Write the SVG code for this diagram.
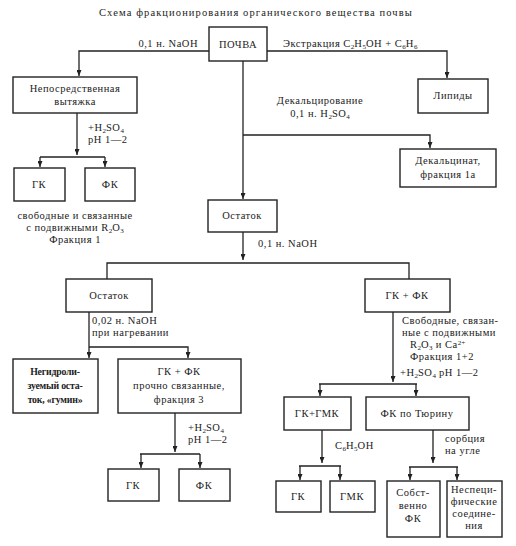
<svg xmlns="http://www.w3.org/2000/svg" width="516" height="546" viewBox="0 0 516 546" font-family="'Liberation Serif', 'Times New Roman', 'DejaVu Serif', serif">
<defs>
<marker id="ar" markerWidth="6" markerHeight="5" refX="6" refY="2.5" orient="auto" markerUnits="userSpaceOnUse">
<path d="M0,0 L6,2.5 L0,5 z" fill="#222"/>
</marker>
<style>
text{font-family:'Liberation Serif','Times New Roman','DejaVu Serif',serif;font-size:10.5px;letter-spacing:0.5px;fill:#222}
.c{text-anchor:middle}
.t{font-size:10.5px;letter-spacing:1.1px}
.b{font-weight:bold;font-size:9.8px;letter-spacing:-0.2px}
.box rect{fill:#fff;stroke:#222;stroke-width:1.4}
#connectors path{fill:none;stroke:#222;stroke-width:1.3}
.s{font-size:7px;letter-spacing:0}
</style>
</defs>
<rect width="516" height="546" fill="#fff"/>
<text class="c t" x="256" y="16">Схема фракционирования органического вещества почвы</text>

<g id="connectors">
<path d="M209 51 H79 V76" marker-end="url(#ar)"/>
<path d="M267 51 H447 V78" marker-end="url(#ar)"/>
<path d="M243 61 V199" marker-end="url(#ar)"/>
<path d="M243 135 H430 V148" marker-end="url(#ar)"/>
<path d="M77 113 V155" marker-end="url(#ar)"/>
<path d="M40 157 H105"/>
<path d="M40 157 V167" marker-end="url(#ar)"/>
<path d="M105 157 V167" marker-end="url(#ar)"/>
<path d="M243 232 V260" marker-end="url(#ar)"/>
<path d="M107 279 V263 H409 V279"/>
<path d="M89 312 V358" marker-end="url(#ar)"/>
<path d="M89 347 H188 V358" marker-end="url(#ar)"/>
<path d="M175 413 V452" marker-end="url(#ar)"/>
<path d="M140 454 H200"/>
<path d="M141 454 V468" marker-end="url(#ar)"/>
<path d="M200 454 V468" marker-end="url(#ar)"/>
<path d="M393 312 V382" marker-end="url(#ar)"/>
<path d="M319 384 H417"/>
<path d="M320 384 V396" marker-end="url(#ar)"/>
<path d="M416 384 V396" marker-end="url(#ar)"/>
<path d="M322 430 V463" marker-end="url(#ar)"/>
<path d="M299 466 H341"/>
<path d="M300 466 V480" marker-end="url(#ar)"/>
<path d="M340 466 V480" marker-end="url(#ar)"/>
<path d="M433 430 V463" marker-end="url(#ar)"/>
<path d="M409 467 H458"/>
<path d="M410 467 V480" marker-end="url(#ar)"/>
<path d="M457 467 V480" marker-end="url(#ar)"/>
</g>

<g id="labels">
<text x="198" y="47" text-anchor="end">0,1 н. NaOH</text>
<text x="283" y="47">Экстракция C<tspan class="s" dy="2">2</tspan><tspan dy="-2">H</tspan><tspan class="s" dy="2">5</tspan><tspan dy="-2">OH + C</tspan><tspan class="s" dy="2">6</tspan><tspan dy="-2">H</tspan><tspan class="s" dy="2">6</tspan></text>
<text class="c" x="320" y="104">Декальцирование</text>
<text class="c" x="320" y="117">0,1 н. H<tspan class="s" dy="2">2</tspan><tspan dy="-2">SO</tspan><tspan class="s" dy="2">4</tspan></text>
<text x="88" y="131">+H<tspan class="s" dy="2">2</tspan><tspan dy="-2">SO</tspan><tspan class="s" dy="2">4</tspan></text>
<text x="88" y="143">pH 1—2</text>
<text class="c" x="75" y="219">свободные и связанные</text>
<text class="c" x="75" y="231">с подвижными R<tspan class="s" dy="2">2</tspan><tspan dy="-2">O</tspan><tspan class="s" dy="2">3</tspan></text>
<text class="c" x="75" y="243">Фракция 1</text>
<text x="258" y="247">0,1 н. NaOH</text>
<text x="92" y="324">0,02 н. NaOH</text>
<text x="92" y="336">при нагревании</text>
<text x="188" y="431">+H<tspan class="s" dy="2">2</tspan><tspan dy="-2">SO</tspan><tspan class="s" dy="2">4</tspan></text>
<text x="188" y="443">pH 1—2</text>
<text x="402" y="324">Свободные, связан-</text>
<text x="402" y="336">ные с подвижными</text>
<text x="410" y="348">R<tspan class="s" dy="2">2</tspan><tspan dy="-2">O</tspan><tspan class="s" dy="2">3</tspan><tspan dy="-2"> и Ca</tspan><tspan class="s" dy="-3">2+</tspan></text>
<text x="410" y="360">Фракция 1+2</text>
<text x="400" y="376">+H<tspan class="s" dy="2">2</tspan><tspan dy="-2">SO</tspan><tspan class="s" dy="2">4</tspan><tspan dy="-2"> pH 1—2</tspan></text>
<text x="335" y="449">C<tspan class="s" dy="2">6</tspan><tspan dy="-2">H</tspan><tspan class="s" dy="2">5</tspan><tspan dy="-2">OH</tspan></text>
<text x="445" y="442">сорбция</text>
<text x="445" y="454">на угле</text>
</g>

<g id="pochva" class="box"><rect x="209" y="27" width="58" height="34"/><text class="c" x="238" y="48">ПОЧВА</text></g>
<g id="vytyazhka" class="box"><rect x="13" y="77" width="124" height="36"/><text class="c" x="75" y="92">Непосредственная</text><text class="c" x="75" y="105">вытяжка</text></g>
<g id="lipidy" class="box"><rect x="418" y="79" width="70" height="34"/><text class="c" x="453" y="99">Липиды</text></g>
<g id="dekalcinat" class="box"><rect x="400" y="149" width="96" height="38"/><text class="c" x="448" y="164">Декальцинат,</text><text class="c" x="448" y="178">фракция 1а</text></g>
<g id="gk1" class="box"><rect x="14" y="168" width="51" height="33"/><text class="c" x="39" y="188">ГК</text></g>
<g id="fk1" class="box"><rect x="85" y="168" width="50" height="33"/><text class="c" x="110" y="188">ФК</text></g>
<g id="ostatok1" class="box"><rect x="208" y="200" width="69" height="32"/><text class="c" x="242" y="219">Остаток</text></g>
<g id="ostatok2" class="box"><rect x="66" y="279" width="86" height="33"/><text class="c" x="109" y="299">Остаток</text></g>
<g id="gkfk" class="box"><rect x="365" y="279" width="85" height="33"/><text class="c" x="407" y="299">ГК + ФК</text></g>
<g id="gumin" class="box"><rect x="13" y="359" width="85" height="54"/><text class="c b" x="55" y="375">Негидроли-</text><text class="c b" x="55" y="389">зуемый оста-</text><text class="c b" x="55" y="403">ток, «гумин»</text></g>
<g id="frac3" class="box"><rect x="118" y="359" width="123" height="54"/><text class="c" x="179" y="375">ГК + ФК</text><text class="c" x="179" y="389">прочно связанные,</text><text class="c" x="179" y="403">фракция 3</text></g>
<g id="gk3" class="box"><rect x="108" y="469" width="51" height="32"/><text class="c" x="133" y="489">ГК</text></g>
<g id="fk3" class="box"><rect x="179" y="469" width="51" height="32"/><text class="c" x="204" y="489">ФК</text></g>
<g id="gkgmk" class="box"><rect x="284" y="397" width="67" height="33"/><text class="c" x="317" y="417">ГК+ГМК</text></g>
<g id="fktyurin" class="box"><rect x="366" y="397" width="103" height="33"/><text class="c" x="417" y="417">ФК по Тюрину</text></g>
<g id="gk4" class="box"><rect x="276" y="481" width="45" height="31"/><text class="c" x="298" y="500">ГК</text></g>
<g id="gmk" class="box"><rect x="330" y="481" width="45" height="31"/><text class="c" x="352" y="500">ГМК</text></g>
<g id="sobstvenno" class="box"><rect x="387" y="481" width="53" height="56"/><text class="c" x="413" y="496">Собст-</text><text class="c" x="413" y="509">венно</text><text class="c" x="413" y="522">ФК</text></g>
<g id="nespec" class="box"><rect x="447" y="481" width="55" height="56"/><text class="c" x="474" y="493">Неспеци-</text><text class="c" x="474" y="505">фические</text><text class="c" x="474" y="517">соедине-</text><text class="c" x="474" y="529">ния</text></g>
</svg>
